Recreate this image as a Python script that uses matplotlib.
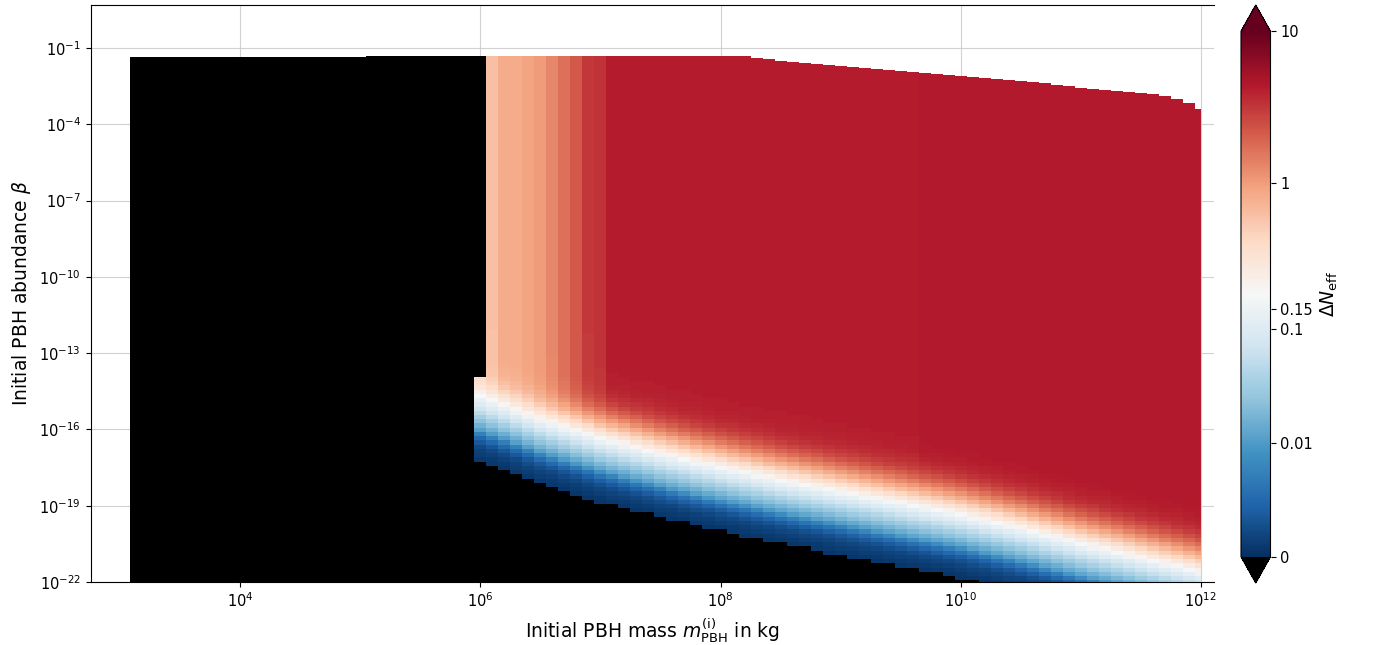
import numpy as np
import matplotlib
matplotlib.use("Agg")
import matplotlib.pyplot as plt
from matplotlib import colors

# column centres of the mass grid, log10(m / kg)
logm_centres = np.round(np.arange(3.1, 12.01, 0.1), 2)

# saturated Delta N_eff reached at large beta, per column
sat_logm = [6.0, 6.1, 6.2, 6.3, 6.4, 6.5, 6.6, 6.7, 6.8, 6.9, 7.0, 7.1, 9.6, 9.7, 12.0]
sat_dneff = [0.5, 0.61, 0.83, 0.83, 0.92, 1.03, 1.29, 1.7, 2.24, 3.07, 3.3, 4.25, 4.25, 4.45, 4.45]

# log10(beta) where Delta N_eff = 0.15 (the white band)
white_logm = [6.0, 6.5, 7.0, 7.5, 8.0, 8.5, 9.0, 9.5, 10.0, 10.5, 11.0, 11.5, 12.0]
white_logb = [-14.8, -15.7, -16.45, -17.05, -17.6, -18.1, -18.55, -19.0, -19.45, -20.0, -20.6, -21.15, -21.7]

# upper edge of the computed region, log10(beta)
top_logm = [3.08, 5.05, 5.06, 8.17, 8.65, 9.0, 9.82, 10.65, 11.15, 11.48, 11.65, 11.82, 11.9, 12.0]
top_logb = [-1.37, -1.37, -1.31, -1.31, -1.59, -1.71, -2.02, -2.36, -2.65, -2.75, -2.84, -3.04, -3.16, -3.39]

# below this mass everything is excluded (black); the 1e6 kg column only below this beta
excl_logm = 5.95
col6_top_logb = -13.88
dneff_floor = 6e-4


def dneff(logm, logb):
    if logm < excl_logm:
        return np.full_like(logb, -1.0)
    S = np.interp(logm, sat_logm, sat_dneff)
    lw = np.interp(logm, white_logm, white_logb)
    k = 1.3
    q = 0.15 / S
    rw = q / (1 - q**k) ** (1 / k)
    r = rw * 10 ** (logb - lw)
    d = S * r / (1 + r**k) ** (1 / k)
    d[d < dneff_floor] = -1.0
    if logm < 6.05:
        d[logb > col6_top_logb] = -1.0
    return d


# colour scale: linear up to 0.01, log pieces below/above 0.15
def fwd(x):
    x = np.asarray(x, float)
    with np.errstate(all="ignore"):
        lo = x / 0.01 * 113.4
        mid = 113.4 + 114.5 * np.log10(x / 0.01)
        hi = 248.06 + 152.0 * np.log10(x / 0.15)
    return np.where(x <= 0.01, lo, np.where(x <= 0.15, mid, hi))


def inv(y):
    y = np.asarray(y, float)
    lo = y / 113.4 * 0.01
    mid = 0.01 * 10 ** ((y - 113.4) / 114.5)
    hi = 0.15 * 10 ** ((y - 248.06) / 152.0)
    return np.where(y <= 113.4, lo, np.where(y <= 248.06, mid, hi))


norm = colors.FuncNorm((fwd, inv), vmin=0, vmax=10)
cmap = plt.get_cmap("RdBu_r").with_extremes(under="black")

fig = plt.figure(figsize=(13.75, 6.45), dpi=100)
ax = fig.add_axes([90.5 / 1375, 63 / 645, (1214 - 90.5) / 1375, 577 / 645])
ax.set_xscale("log")
ax.set_yscale("log")

x_edges = np.concatenate([[3.08], 0.5 * (logm_centres[:-1] + logm_centres[1:]), [12.0]])
row_edges = np.arange(-22.6, 0.0, 1 / 6)
for j, lm in enumerate(logm_centres):
    top = np.interp(lm, top_logm, top_logb)
    ye = np.append(row_edges[row_edges < top - 0.02], top)
    yc = 0.5 * (ye[:-1] + ye[1:])
    z = dneff(lm, yc)[:, None]
    ax.pcolormesh(10 ** x_edges[j:j + 2], 10 ** ye, z, cmap=cmap, norm=norm, shading="flat")

ax.set_xlim(10**2.753, 10**12.11)
ax.set_ylim(1e-22, 10**0.69)
ax.set_xticks([1e4, 1e6, 1e8, 1e10, 1e12])
ax.set_yticks([1e-22, 1e-19, 1e-16, 1e-13, 1e-10, 1e-7, 1e-4, 1e-1])
ax.minorticks_off()
ax.spines["right"].set_visible(False)
ax.set_axisbelow(True)
ax.grid(True, color="0.82", lw=0.8)
ax.tick_params(labelsize=10.5)
ax.set_xlabel(r"Initial PBH mass $m_{\rm PBH}^{\rm (i)}$ in kg", fontsize=13.5)
ax.set_ylabel(r"Initial PBH abundance $\beta$", fontsize=13.5)

cax = fig.add_axes([1241 / 1375, 62 / 645, 29.5 / 1375, 578 / 645])
sm = plt.cm.ScalarMappable(norm=norm, cmap=cmap)
cbar = fig.colorbar(sm, cax=cax, extend="both")
cbar.set_ticks([0, 0.01, 0.1, 0.15, 1, 10])
cbar.set_ticklabels(["0", "0.01", "0.1", "0.15", "1", "10"])
cbar.ax.tick_params(labelsize=10.5)
cbar.set_label(r"$\Delta N_{\rm eff}$", fontsize=13.5)

fig.savefig("out.png", dpi=100)
